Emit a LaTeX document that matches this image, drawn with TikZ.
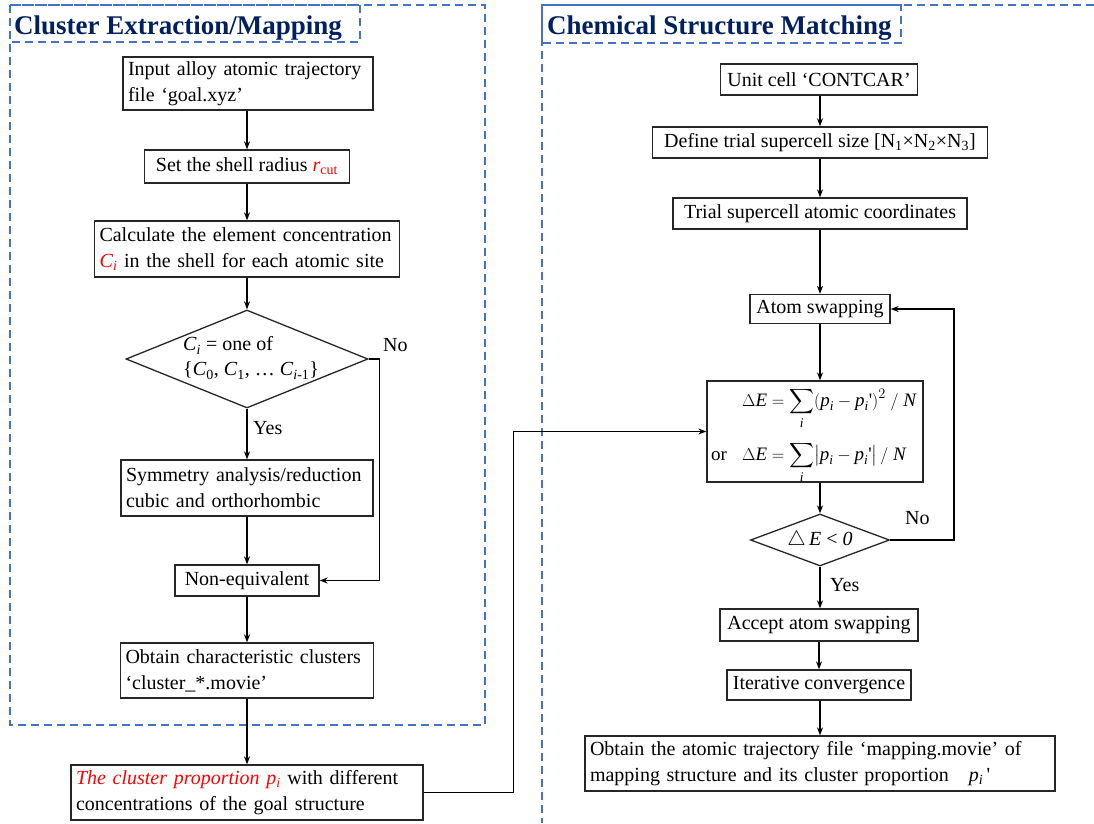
\documentclass[tikz,border=0pt]{standalone}
\usepackage{amsmath}
\usepackage{fontspec}
\setmainfont{Liberation Serif}
\usetikzlibrary{arrows.meta,shapes.geometric}
\definecolor{frameblue}{RGB}{68,114,196}
\definecolor{titlenavy}{RGB}{0,32,96}
\definecolor{hlred}{RGB}{255,0,0}
\newcommand{\ivar}[2]{\textit{#1}\textsubscript{\textit{#2}}}
\newcommand{\tv}[1]{\textit{#1}}
\newcommand{\pr}{\text{\textquotesingle}}
\begin{document}
\begin{tikzpicture}[x=1pt,y=-1pt,
  box/.style={draw=black!85,line width=1.3pt,inner xsep=5pt,inner ysep=3pt,align=center,font=\fontsize{20}{26}\selectfont},
  lbox/.style={box,align=left,text width=#1-10pt,minimum width=#1},
  dia/.style={draw=black!85,line width=1.3pt,diamond,inner sep=0pt},
  arr/.style={line width=1.6pt,-{Stealth[length=8pt,width=6pt]}},
  frame/.style={draw=frameblue,line width=1.5pt,dash pattern=on 8pt off 5pt},
  title/.style={font=\fontsize{27}{30}\selectfont\bfseries,text=titlenavy,inner sep=0pt,anchor=base west},
  lbl/.style={font=\fontsize{20}{25}\selectfont,inner sep=0pt},
  fml/.style={font=\fontsize{19}{24}\selectfont,inner sep=0pt,anchor=base west}]
\useasboundingbox (0,0) rectangle (1094,823);
% frames
\draw[frame] (10,5) rectangle (485,725);
\draw[frame] (10,5) rectangle (360,42);
\draw[frame] (1094,5) -- (542,5) -- (542,823);
\draw[frame] (542,5) rectangle (901,43);
\node[title] (t1) at (14,34) {Cluster Extraction/Mapping};
\node[title] (t2) at (547,34) {Chemical Structure Matching};
% left chart
\node[lbox=250pt,minimum height=53] (n1) at (248,83.5) {Input alloy atomic trajectory\\file ‘goal.xyz’};
\node[box,minimum width=205,minimum height=33] (n2) at (247,166.5) {Set the shell radius \textcolor{hlred}{\textit{r}\textsubscript{cut}}};
\node[lbox=305pt,minimum height=56] (n3) at (247,249) {Calculate the element concentration\\\textcolor{hlred}{\ivar{C}{i}} in the shell for each atomic site};
\node[dia,minimum width=242,minimum height=98] (d1) at (247,359) {};
\node[lbl,align=left,anchor=west] (d1t) at (183,358) {\ivar{C}{i} = one of\\\{\textit{C}\textsubscript{0}, \textit{C}\textsubscript{1}, … \textit{C}\textsubscript{\textit{i}-1}\}};
\node[lbox=252pt,minimum height=56] (n4) at (247,488) {Symmetry analysis/reduction\\cubic and orthorhombic};
\node[box,minimum width=144,minimum height=31] (n5) at (247,580.5) {Non-equivalent};
\node[lbox=253pt,minimum height=55] (n6) at (247,670.5) {Obtain characteristic clusters\\‘cluster\_*.movie’};
\node[lbox=352pt,minimum height=55] (n7) at (247,792.5) {\textcolor{hlred}{\textit{The cluster proportion p}\textsubscript{\textit{i}}} with different\\concentrations of the goal structure};
\node[lbl,anchor=west] (yes1) at (253,428) {Yes};
\node[lbl,anchor=west] (no1) at (383,345) {No};
\draw[arr] (n1.south -| n2.north) -- (n2.north);
\draw[arr] (n2.south) -- (n2.south |- n3.north);
\draw[arr] (n3.south) -- (n3.south |- d1.north);
\draw[arr] (d1.south) -- (d1.south |- n4.north);
\draw[arr] (d1.east) -- ++(11,0) |- (n5.east);
\draw[arr] (n4.south) -- (n4.south |- n5.north);
\draw[arr] (n5.south) -- (n5.south |- n6.north);
\draw[arr] (n6.south) -- (n6.south |- n7.north);
% right chart
\node[box,minimum width=197,minimum height=31] (m1) at (819,79.5) {Unit cell ‘CONTCAR’};
\node[box,minimum width=335,minimum height=31] (m2) at (820,142.5) {Define trial supercell size [N\textsubscript{1}×N\textsubscript{2}×N\textsubscript{3}]};
\node[box,minimum width=294,minimum height=31] (m3) at (820,213.5) {Trial supercell atomic coordinates};
\node[box,minimum width=140,minimum height=29] (m4) at (820,309) {Atom swapping};
\node[box,minimum width=216,minimum height=101] (m5) at (815,431.5) {};
\node[fml] (f1) at (742,406) {$\displaystyle\Delta\tv{E}=\sum_{\tv{i}}(\tv{p}_{\tv{i}}-\tv{p}_{\tv{i}}\pr)^2\;/\;\tv{N}$};
\node[fml] (f2) at (742,460) {$\displaystyle\Delta\tv{E}=\sum_{\tv{i}}\bigl|\tv{p}_{\tv{i}}-\tv{p}_{\tv{i}}\pr\bigr|\,/\;\tv{N}$};
\node[fml] (f2or) at (711,460) {or};
\node[dia,minimum width=139,minimum height=52] (d2) at (820,540) {};
\node[lbl] (d2t) at (820,540) {$\triangle$\,\tv{E} < \tv{0}};
\node[box,minimum width=198,minimum height=32] (m6) at (819,625) {Accept atom swapping};
\node[box,minimum width=184,minimum height=30] (m7) at (819,685) {Iterative convergence};
\node[lbox=470pt,minimum height=55] (m8) at (820,763.5) {Obtain the atomic trajectory file ‘mapping.movie’ of\\mapping structure and its cluster proportion \ \ \ivar{p}{i}\,\textquotesingle};
\node[lbl,anchor=west] (no2) at (905,518) {No};
\node[lbl,anchor=west] (yes2) at (830,585) {Yes};
\draw[arr] (m1.south -| m2.north) -- (m2.north);
\draw[arr] (m2.south) -- (m2.south |- m3.north);
\draw[arr] (m3.south) -- (m3.south |- m4.north);
\draw[arr] (m4.south) -- (m4.south |- m5.north);
\draw[arr] (d2.north |- m5.south) -- (d2.north);
\draw[arr] (d2.east) -- ++(64,0) |- (m4.east);
\draw[arr] (d2.south) -- (d2.south |- m6.north);
\draw[arr] (m6.south -| m7.north) -- (m7.north);
\draw[arr] (m7.south -| m8.north) -- (m8.north);
% link
\draw[arr] (n7.east) -- ++(90,0) |- (m5.west);
\end{tikzpicture}
\end{document}
